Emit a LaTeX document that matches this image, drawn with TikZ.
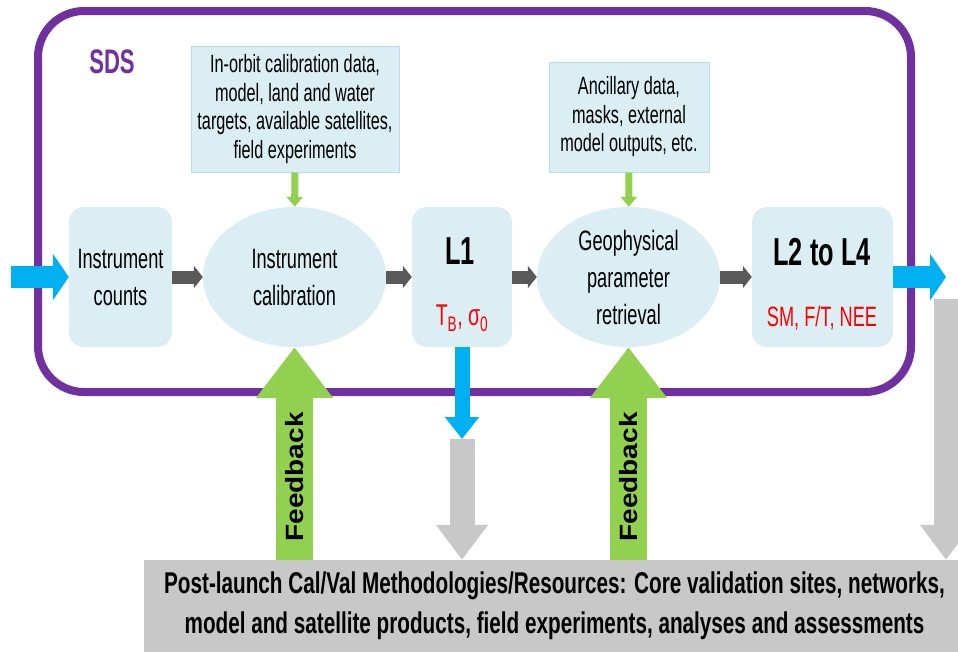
\documentclass[tikz,border=0pt]{standalone}
\usepackage{fontspec}
\setmainfont{Liberation Sans}[FakeStretch=0.65]
\newfontfamily\fbfont{Liberation Sans}[FakeStretch=1.12]
\newfontfamily\resfont{Liberation Sans}[FakeStretch=0.69]
\usetikzlibrary{arrows.meta,shapes.geometric}

\definecolor{sdspurple}{HTML}{7030A0}
\definecolor{boxfill}{HTML}{DAEEF3}
\definecolor{boxedge}{HTML}{B7DEE8}
\definecolor{flowgray}{HTML}{595959}
\definecolor{palegray}{HTML}{C8C8C8}
\definecolor{datablue}{HTML}{00B0F0}
\definecolor{fbgreen}{HTML}{92D050}
\definecolor{outred}{HTML}{FF0000}

\tikzset{
  stage/.style={fill=boxfill, rounded corners=15pt, minimum height=140pt, inner sep=0pt},
  proc/.style={ellipse, fill=boxfill, minimum width=183pt, minimum height=140pt,
    inner sep=0pt, align=center, font=\fontsize{28}{37}\selectfont},
  source/.style={draw=boxedge, line width=1pt, fill=boxfill, inner sep=0pt,
    align=center, font=\fontsize{25}{28.5}\selectfont},
  stagetxt/.style={align=center, font=\fontsize{28}{37}\selectfont},
  level/.style={font=\fontsize{39}{39}\selectfont\bfseries},
  product/.style={text=outred, font=\fontsize{28}{28}\selectfont},
  flow/.style={flowgray, line width=13pt, -{Triangle[length=9pt,width=22pt]}},
  bigflow/.style={datablue, line width=22pt, -{Triangle[length=16pt,width=46pt]}},
  dropflow/.style={datablue, line width=15pt, -{Triangle[length=22pt,width=33pt]}},
  valflow/.style={palegray, line width=25pt, -{Triangle[length=35pt,width=50pt]}},
  feed/.style={fbgreen, line width=7pt, -{Triangle[length=10pt,width=16pt]}},
  feedback/.style={fbgreen, line width=37pt, -{Triangle[length=51pt,width=74pt]}},
  fbtext/.style={rotate=90, font=\fontsize{25}{25}\fbfont\bfseries}
}

\begin{document}
\begin{tikzpicture}[x=1pt, y=-1pt]
\path[use as bounding box] (0,0) rectangle (958,651);
\clip (0,0) rectangle (958,651);

% science data system frame
\node[draw=sdspurple, line width=8pt, rounded corners=46pt,
      minimum width=873pt, minimum height=381pt, inner sep=0pt] (sds) at (474.5,201.5) {};
\node[text=sdspurple, font=\fontsize{34}{34}\selectfont\bfseries] (sdslabel) at (112,62) {SDS};

% processing chain
\node[stage, minimum width=103pt] (counts) at (120.5,277) {};
\node[stagetxt] (countstxt) at (counts) {Instrument\\counts};
\node[proc] (calib) at (294.5,277) {Instrument\\calibration};
\node[stage, minimum width=100pt] (L1) at (462,277) {};
\node[level] (L1txt) at (460,251) {L1};
\node[product, font=\fontsize{30}{30}\selectfont] (L1out) at (462,318) {T\textsubscript{B}, σ\textsubscript{0}};
\node[proc] (geo) at (628.5,277) {Geophysical\\parameter\\retrieval};
\node[stage, minimum width=141pt] (L24) at (822.5,277) {};
\node[level] (L24txt) at (822,252) {L2 to L4};
\node[product] (L24out) at (822,318) {SM, F/T, NEE};

% auxiliary inputs
\node[source, minimum width=208pt, minimum height=126pt] (calsrc) at (295,109)
  {In-orbit calibration data,\\model, land and water\\targets,  available satellites,\\field experiments};
\node[source, minimum width=160pt, minimum height=110pt] (ancsrc) at (629,117)
  {Ancillary data,\\masks, external\\model outputs, etc.};

% post-launch cal/val resources
\node[fill=palegray, minimum width=821pt, minimum height=92pt, inner sep=0pt,
      align=center, font=\fontsize{30}{40}\resfont\bfseries] (bot) at (554.5,606)
  {Post-launch Cal/Val Methodologies/Resources: Core validation sites, networks,\\
   model and satellite products, field experiments, analyses and assessments};

% free ends of the data arrows
\coordinate (intail) at (11,277);
\coordinate (outtip) at (946,277);
\coordinate (l1drop) at (462,439);
\coordinate (outdrop) at (946,299);

% data flow
\draw[bigflow] (intail) -- (counts);
\draw[flow] (counts) -- (calib);
\draw[flow] (calib) -- (L1);
\draw[flow] (L1) -- (geo);
\draw[flow] (geo) -- (L24);
\draw[bigflow] (L24) -- (outtip);
\draw[feed] (calsrc) -- (calib);
\draw[feed] (ancsrc) -- (geo);

% products handed to cal/val
\draw[dropflow] (L1) -- (l1drop);
\draw[valflow] (l1drop) -- (l1drop |- bot.north);
\draw[valflow] (outdrop) -- (outdrop |- bot.north);

% feedback from cal/val
\draw[feedback] (calib.south |- bot.north) -- (calib.south);
\draw[feedback] (geo.south |- bot.north) -- (geo.south);
\node[fbtext] (fb1) at (calib.south |- 0,477) {Feedback};
\node[fbtext] (fb2) at (geo.south |- 0,477) {Feedback};
\end{tikzpicture}
\end{document}
